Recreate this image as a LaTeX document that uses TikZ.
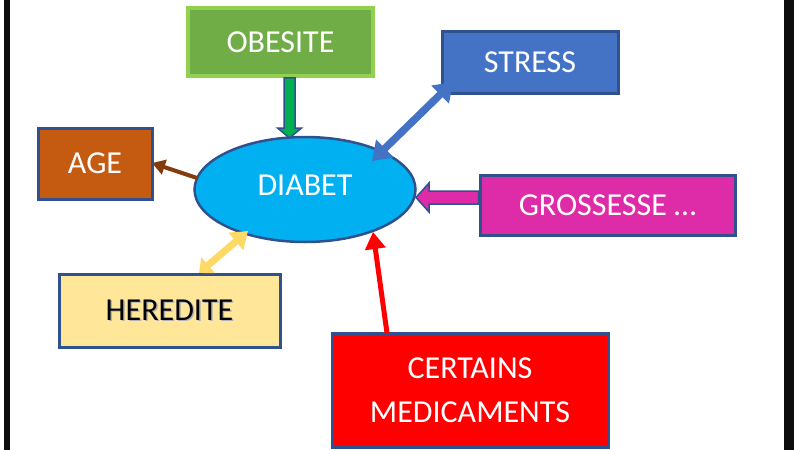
\documentclass[tikz,border=0pt]{standalone}
\usepackage{fontspec}
\setmainfont{Carlito}
\usetikzlibrary{arrows.meta,calc,shapes.geometric}
\definecolor{edgeblue}{HTML}{2F528F}
\definecolor{obefill}{HTML}{70AD47}
\definecolor{obeedge}{HTML}{92D050}
\definecolor{agefill}{HTML}{C55A11}
\definecolor{strfill}{HTML}{4472C4}
\definecolor{grofill}{HTML}{DE2CA8}
\definecolor{herfill}{HTML}{FFE699}
\definecolor{herarrow}{HTML}{FFD966}
\definecolor{diafill}{HTML}{00B0F0}
\definecolor{brownarrow}{HTML}{843C0C}
\definecolor{greenarrow}{HTML}{00B050}
\newcommand{\shadowtext}[1]{\rlap{\kern1.5pt\raisebox{-1.5pt}{\textcolor{black!30}{#1}}}#1}
\tikzset{
  box/.style={rectangle, draw=edgeblue, line width=3pt, inner sep=0pt, text=white,
    font=\fontsize{32}{44}\selectfont, align=center},
  blockarrow/.style={draw=edgeblue, line width=1.5pt, line join=miter},
}
\begin{document}
\begin{tikzpicture}[x=1pt,y=-1pt]
\useasboundingbox (0,0) rectangle (794,450);
% side bars
\fill[black!95] (4,0) rectangle (10,450);
\fill[black!95] (784,0) rectangle (794,450);

% nodes
\node[box, fill=obefill, draw=obeedge, line width=3.5pt, minimum width=185pt, minimum height=68pt] (obe) at (280.5,42) {OBESITE};
\node[box, fill=agefill, minimum width=114pt, minimum height=71pt] (age) at (95,163.5) {AGE};
\node[box, fill=strfill, minimum width=176pt, minimum height=62pt] (str) at (530,62) {STRESS};
\node[box, fill=grofill, minimum width=255pt, minimum height=60pt] (gro) at (607.5,205) {GROSSESSE …};
\node[box, fill=herfill, text=black, minimum width=221pt, minimum height=73pt] (her) at (169.5,310.5) {\shadowtext{HEREDITE}};
\node[box, fill=red, minimum width=276pt, minimum height=114pt] (med) at (470,390) {CERTAINS\\MEDICAMENTS};
\node[ellipse, draw=edgeblue, line width=2.5pt, fill=diafill, minimum width=221pt, minimum height=105pt,
  inner sep=0pt] (dia) at (305,189.5) {};
\node[text=white, font=\fontsize{32}{44}\selectfont] (diatext) at (305,185) {DIABET};

% connector end points
\coordinate (obeS) at ($(obe.south)+(9,0)$);
\coordinate (diaN) at (289.5,138);
\coordinate (groW) at ($(gro.west)+(0,-7.5)$);
\coordinate (diaE) at (416,197.5);
\coordinate (ageE) at (152,163);
\coordinate (diaW) at (197,178);
\coordinate (strSW) at (453,82);
\coordinate (diaNE) at (372,161);
\coordinate (herN) at (199,273);
\coordinate (diaSW) at (248,231);
\coordinate (medN) at (387,333);
\coordinate (diaS) at (373,232);

% block arrow OBESITE -> DIABET
\filldraw[blockarrow, fill=greenarrow]
  ($(obeS)+(-5.5,0)$) -- ($(obeS)+(5.5,0)$) -- ($(diaN)+(5.5,-10)$) -- ($(diaN)+(12,-10)$)
  -- (diaN) -- ($(diaN)+(-12,-10)$) -- ($(diaN)+(-5.5,-10)$) -- cycle;
% block arrow GROSSESSE -> DIABET
\filldraw[blockarrow, fill=grofill]
  ($(groW)+(0,-6.5)$) -- ($(diaE)+(13,-6.5)$) -- ($(diaE)+(13,-14.5)$) -- (diaE)
  -- ($(diaE)+(13,14.5)$) -- ($(diaE)+(13,6.5)$) -- ($(groW)+(0,6.5)$) -- cycle;

% DIABET -> AGE
\draw[brownarrow, line width=4pt, -{Triangle[length=13pt,width=15pt]}] (diaW) -- (ageE);
% STRESS <-> DIABET
\draw[strfill, line width=7.5pt, {Triangle[length=18pt,width=24pt]}-{Triangle[length=18pt,width=24pt]}] (diaNE) -- (strSW);
% HEREDITE <-> DIABET
\draw[herarrow, line width=7pt, {Triangle[length=12pt,width=20pt]}-{Triangle[length=16pt,width=22pt]}] (herN) -- (diaSW);
% MEDICAMENTS -> DIABET
\draw[red, line width=5pt, -{Triangle[length=17pt,width=20pt]}] (medN) -- (diaS);
\end{tikzpicture}
\end{document}
